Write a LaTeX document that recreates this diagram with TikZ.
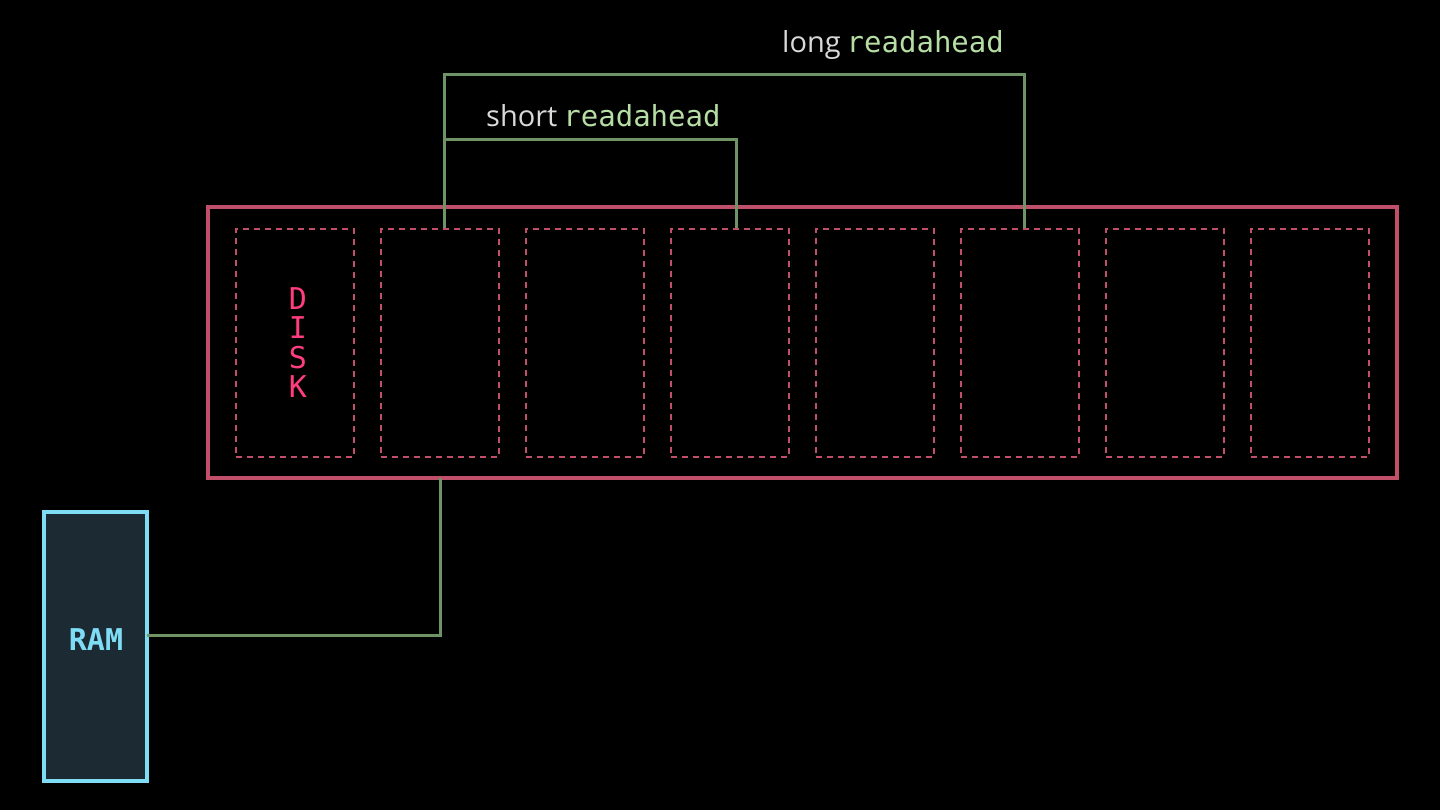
\documentclass[tikz,border=0pt]{standalone}
\usepackage{fontspec}
\setmainfont{Open Sans}
\setmonofont{DejaVu Sans Mono}
\begin{document}
\begin{tikzpicture}[x=1pt,y=-1pt,
  disk/.style={draw=diskc,line width=3.5},
  cell/.style={draw=diskc,line width=2.5,dash pattern=on 6pt off 5pt},
  wire/.style={draw=wirec,line width=3},
  dl/.style={text={rgb,255:red,255;green,61;blue,127},font=\ttfamily\fontsize{30}{30}\selectfont,inner sep=0},
  lbl/.style={text=white!85!black,font=\fontsize{29}{30}\selectfont,inner sep=0,anchor=base west}]
\definecolor{diskc}{HTML}{C0506A}
\definecolor{wirec}{HTML}{6E9466}
\definecolor{ramc}{HTML}{7FDCF5}
\definecolor{monog}{HTML}{B5DDA4}
\fill[black] (0,0) rectangle (1440,810);
\useasboundingbox (0,0) rectangle (1440,810);
\node[disk,minimum width=1189,minimum height=271,inner sep=0] (disk) at (802.5,342.5) {};
\foreach \i in {0,...,7}{
  \node[cell,minimum width=118,minimum height=228,inner sep=0] (c\i) at ({295+145*\i},343) {};
}
\node[dl] (d1) at (298,299) {D};
\node[dl] (d2) at (298,328) {I};
\node[dl] (d3) at (298,358) {S};
\node[dl] (d4) at (298,387) {K};
\node[draw=ramc,line width=3.5,fill={rgb,255:red,27;green,42;blue,51},minimum width=103,minimum height=269,inner sep=0] (ram) at (95.5,646.5) {};
\node[text=ramc,font=\ttfamily\bfseries\fontsize{30}{30}\selectfont] (ramt) at (96,640) {RAM};
\coordinate (s1) at ([xshift=4]c1.north);
\coordinate (s2) at ([xshift=6]c3.north);
\coordinate (l2) at ([xshift=4]c5.north);
\coordinate (r1) at (147,635);
\draw[wire] (s1) -- (444,140) -| (s2);
\draw[wire] (s1) -- (444,75) -| (l2);
\draw[wire] (r1) -| (440,478);
\node[lbl] (sl) at (486,127) {short\hspace{6pt}\textcolor{monog}{\ttfamily\fontsize{29}{28}\selectfont readahead}};
\node[lbl] (ll) at (782,53) {long\hspace{6pt}\textcolor{monog}{\ttfamily\fontsize{29}{28}\selectfont readahead}};
\end{tikzpicture}
\end{document}
